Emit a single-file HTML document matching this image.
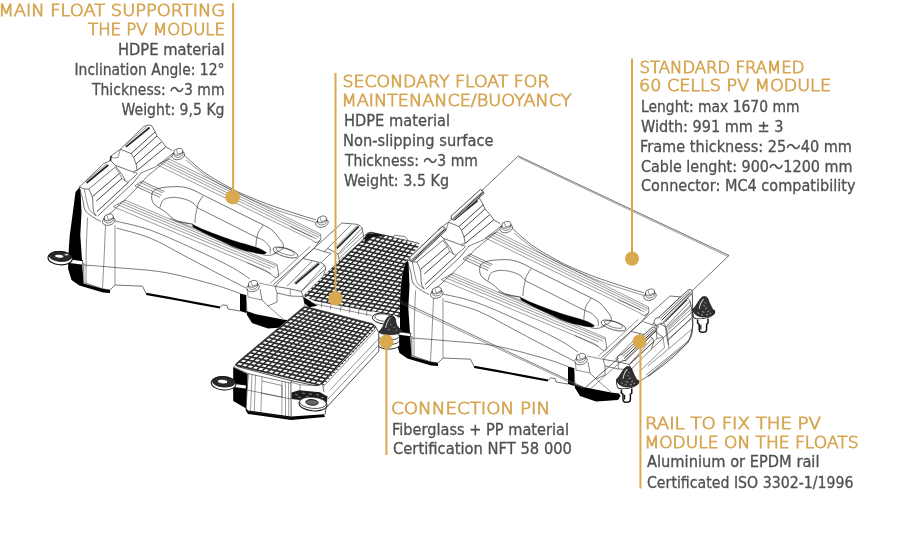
<!DOCTYPE html>
<html><head><meta charset="utf-8"><title>Floating PV system components</title>
<style>
html,body{margin:0;padding:0;background:#fff;}
body{width:900px;height:533px;overflow:hidden;}
svg{display:block;will-change:transform}
.h{font-family:"DejaVu Sans Light","DejaVu Sans","Liberation Sans",sans-serif;font-weight:200;fill:#d6a652;stroke:#d6a652;stroke-width:0.85px;}
.b{font-family:"DejaVu Sans","Liberation Sans","Noto Sans CJK JP",sans-serif;fill:#505050;stroke:#505050;stroke-width:0.3px;}
</style></head><body>
<svg width="900" height="533" viewBox="0 0 900 533">
<rect width="900" height="533" fill="#fff"/>
<g id="drawing">
<defs><g id="mf">
<polygon points="79.5,187.0 103.6,163.6 110.5,160.5 111.0,156.0 120.4,149.2 143.4,126.8 147.0,125.2 149.6,125.0 152.1,126.2 155.2,131.8 157.0,136.0 162.0,141.5 166.0,147.0 172.0,150.5 175.0,149.0 178.5,148.3 182.0,150.0 184.0,154.0 186.0,157.0 203.3,171.7 228.0,186.7 245.0,195.0 270.0,205.0 300.0,215.0 316.0,219.5 318.0,217.0 322.0,216.0 326.0,218.0 327.5,222.0 333.0,230.0 341.9,223.0 356.2,224.2 360.0,225.5 362.2,228.0 363.8,237.3 364.5,257.0 362.0,266.0 356.0,273.0 346.0,281.0 320.0,303.0 300.0,318.0 292.5,323.0 290.0,327.0 268.0,328.5 252.0,323.0 247.0,315.0 240.0,311.0 228.0,309.0 220.0,307.5 180.0,300.0 146.2,293.8 142.5,286.2 115.0,285.0 110.0,293.0 103.0,292.4 79.4,285.6 71.5,280.0 68.1,268.7 68.7,249.6 69.8,235.0 72.5,215.0 75.5,192.0" fill="#fff"/>
<polygon points="79.5,187.5 75.5,192.0 72.5,215.0 69.8,235.0 68.7,249.6 68.1,268.7 71.5,280.0 79.4,285.6 103.0,292.4 110.0,293.0 110.0,290.0 102.5,288.8 83.5,283.5 82.2,263.0 80.3,235.0 81.5,212.5 80.5,190.0" fill="#000"/>
<path d="M192.5 224.2C194.9 225.3 200.2 228.2 206.7 230.8C213.2 233.4 223.4 237.2 231.7 240.0C240.0 242.8 250.9 245.4 256.7 247.5C262.5 249.6 265.0 251.7 266.7 252.5L266.7 252.5C266.1 252.8 265.5 254.2 263.3 254.2C261.1 254.2 257.7 253.5 253.3 252.5C248.9 251.5 243.1 250.7 236.7 248.3C230.3 245.9 221.9 241.6 215.0 238.3C208.1 235.0 198.8 230.7 195.0 228.3C191.2 226.0 192.9 224.9 192.5 224.2" fill="#000" stroke="#262626" stroke-width="0.3"/>
<polygon points="240.0,293.5 246.0,295.0 246.5,313.0 240.0,311.0" fill="#000"/>
<polygon points="246.5,311.0 256.0,314.2 283.0,319.6 291.0,320.5 292.5,323.0 290.0,327.0 268.0,328.5 252.0,323.0 247.0,315.0" fill="#000"/>
<path d="M146.2 293.8C151.9 294.8 167.7 297.7 180.0 300.0C192.3 302.3 213.3 306.2 220.0 307.5" fill="none" stroke="#000" stroke-width="2.2"/>
<polyline points="79.5,187.0 103.6,163.6 110.5,160.5" fill="none" stroke="#262626" stroke-width="0.65" />
<polyline points="111.0,156.0 120.4,149.2 143.4,126.8 147.0,125.2 149.6,125.0 152.1,126.2 155.2,131.8 157.0,136.0 162.0,141.5 166.0,147.0 172.0,150.5" fill="none" stroke="#262626" stroke-width="0.65" />
<path d="M184.0 155.0C187.2 157.8 196.0 166.4 203.3 171.7C210.6 177.0 221.1 182.8 228.0 186.7C234.9 190.6 238.0 191.9 245.0 195.0C252.0 198.1 260.8 201.7 270.0 205.0C279.2 208.3 292.3 212.5 300.0 215.0C307.7 217.5 313.3 219.0 316.0 219.8" fill="none" stroke="#262626" stroke-width="0.65"/>
<polyline points="83.8,263.0 83.8,282.5 102.5,288.8 110.0,290.0 115.0,285.0 142.5,286.2 146.2,293.8" fill="none" stroke="#262626" stroke-width="0.65" />
<polyline points="220.0,307.5 222.5,304.8 227.0,305.5 228.0,309.0 240.0,311.0" fill="none" stroke="#262626" stroke-width="0.65" />
<polyline points="86.5,183.0 108.3,165.0" fill="none" stroke="#262626" stroke-width="1.7" />
<polyline points="85.2,181.8 106.8,163.8" fill="none" stroke="#262626" stroke-width="0.5" />
<polyline points="79.0,186.8 84.3,189.0 88.8,189.0 115.0,167.3" fill="none" stroke="#262626" stroke-width="0.65" />
<polyline points="92.5,196.5 119.5,173.3" fill="none" stroke="#262626" stroke-width="0.85" />
<polyline points="96.3,201.0 121.8,178.5" fill="none" stroke="#262626" stroke-width="0.85" />
<polyline points="97.0,211.5 128.5,182.3" fill="none" stroke="#262626" stroke-width="0.85" />
<polyline points="97.8,216.0 133.0,183.0" fill="none" stroke="#262626" stroke-width="0.65" />
<path d="M88.8 189.0C89.4 190.5 91.8 194.5 92.5 198.0C93.2 201.5 92.7 207.0 93.3 210.0C93.9 213.0 95.8 215.0 96.3 216.0" fill="none" stroke="#262626" stroke-width="0.65"/>
<path d="M79.0 186.8C79.6 188.9 81.8 195.6 82.8 199.5C83.8 203.4 83.4 207.1 85.0 210.0C86.6 212.9 89.8 214.9 92.5 216.8C95.2 218.7 99.6 220.7 101.0 221.5" fill="none" stroke="#262626" stroke-width="0.65"/>
<path d="M84.3 189.0C84.7 190.8 85.6 196.5 86.5 200.0C87.4 203.5 87.9 207.3 89.5 210.0C91.1 212.7 95.2 215.0 96.3 216.0" fill="none" stroke="#262626" stroke-width="0.5"/>
<polyline points="110.5,160.5 115.4,165.4 132.2,171.6" fill="none" stroke="#262626" stroke-width="0.65" />
<polyline points="111.0,156.0 110.4,161.0" fill="none" stroke="#262626" stroke-width="1.6" />
<polyline points="120.4,149.2 131.0,153.6 133.5,157.3 136.0,164.0 137.2,170.4 132.2,171.6" fill="none" stroke="#262626" stroke-width="0.65" />
<polyline points="115.4,165.4 117.3,168.5 122.3,174.8 125.4,181.0" fill="none" stroke="#262626" stroke-width="0.65" />
<polyline points="115.0,167.3 119.5,173.3 121.8,178.5 125.4,181.0" fill="none" stroke="#262626" stroke-width="0.5" />
<path d="M125.4 181.0C125.9 181.1 126.7 182.6 128.5 181.5C130.3 180.4 135.2 176.0 136.5 174.5C137.8 173.0 136.6 172.8 136.0 172.5C135.4 172.2 133.5 172.9 133.0 173.0" fill="none" stroke="#262626" stroke-width="0.65"/>
<polyline points="111.0,156.3 113.5,158.0 118.0,157.5 120.4,149.2" fill="none" stroke="#262626" stroke-width="0.5" />
<polyline points="126.0,146.8 149.6,127.5" fill="none" stroke="#262626" stroke-width="1.7" />
<polyline points="124.6,145.6 147.4,126.2" fill="none" stroke="#262626" stroke-width="0.5" />
<polyline points="131.0,153.6 155.2,131.8" fill="none" stroke="#262626" stroke-width="0.85" />
<polyline points="133.5,157.3 157.0,136.0" fill="none" stroke="#262626" stroke-width="0.85" />
<polyline points="136.0,164.0 161.5,141.8" fill="none" stroke="#262626" stroke-width="0.85" />
<polyline points="137.2,170.4 165.8,146.8" fill="none" stroke="#262626" stroke-width="0.85" />
<polyline points="141.0,173.0 155.9,166.7 173.3,153.0" fill="none" stroke="#262626" stroke-width="0.6" />
<polyline points="133.0,183.0 141.0,173.0" fill="none" stroke="#262626" stroke-width="0.65" />
<polyline points="103.0,219.0 113.0,211.0 135.0,190.0 147.0,176.5 172.0,156.0" fill="none" stroke="#262626" stroke-width="0.6" />
<ellipse cx="108.75" cy="221.0" rx="6.4" ry="4.2" transform="rotate(-15 108.75 221.0)" fill="#fff" stroke="#262626" stroke-width="0.6"/>
<ellipse cx="108.75" cy="217.39999999999998" rx="4.7" ry="3.2" transform="rotate(-15 108.75 217.39999999999998)" fill="#fff" stroke="#262626" stroke-width="0.6"/>
<polyline points="104.2,218.0 104.2,221.0" fill="none" stroke="#262626" stroke-width="0.6" />
<polyline points="113.3,216.8 113.5,219.8" fill="none" stroke="#262626" stroke-width="0.6" />
<path d="M104.2 221.0C104.8 221.3 106.1 222.8 107.2 223.0C108.4 223.2 110.3 222.6 111.3 222.1C112.4 221.6 113.1 220.2 113.5 219.8" fill="none" stroke="#262626" stroke-width="0.6"/>
<polyline points="107.0,215.3 108.0,219.6 112.3,218.4" fill="none" stroke="#262626" stroke-width="0.45" />
<ellipse cx="178.3" cy="155.4" rx="6.4" ry="4.2" transform="rotate(-15 178.3 155.4)" fill="#fff" stroke="#262626" stroke-width="0.6"/>
<ellipse cx="178.3" cy="151.79999999999998" rx="4.7" ry="3.2" transform="rotate(-15 178.3 151.79999999999998)" fill="#fff" stroke="#262626" stroke-width="0.6"/>
<polyline points="173.7,152.4 173.8,155.4" fill="none" stroke="#262626" stroke-width="0.6" />
<polyline points="182.9,151.2 183.0,154.2" fill="none" stroke="#262626" stroke-width="0.6" />
<path d="M173.8 155.4C174.3 155.7 175.6 157.2 176.8 157.4C178.0 157.6 179.9 157.0 180.9 156.5C181.9 156.0 182.7 154.6 183.0 154.2" fill="none" stroke="#262626" stroke-width="0.6"/>
<polyline points="176.5,149.7 177.5,154.0 181.9,152.8" fill="none" stroke="#262626" stroke-width="0.45" />
<ellipse cx="322.0" cy="223.0" rx="6.4" ry="4.2" transform="rotate(-15 322.0 223.0)" fill="#fff" stroke="#262626" stroke-width="0.6"/>
<ellipse cx="322.0" cy="219.39999999999998" rx="4.7" ry="3.2" transform="rotate(-15 322.0 219.39999999999998)" fill="#fff" stroke="#262626" stroke-width="0.6"/>
<polyline points="317.4,220.0 317.5,223.0" fill="none" stroke="#262626" stroke-width="0.6" />
<polyline points="326.6,218.8 326.7,221.8" fill="none" stroke="#262626" stroke-width="0.6" />
<path d="M317.5 223.0C318.0 223.3 319.3 224.8 320.5 225.0C321.7 225.2 323.6 224.6 324.6 224.1C325.6 223.6 326.4 222.2 326.7 221.8" fill="none" stroke="#262626" stroke-width="0.6"/>
<polyline points="320.2,217.3 321.2,221.6 325.6,220.4" fill="none" stroke="#262626" stroke-width="0.45" />
<ellipse cx="253.0" cy="287.40000000000003" rx="6.4" ry="4.2" transform="rotate(-15 253.0 287.40000000000003)" fill="#fff" stroke="#262626" stroke-width="0.6"/>
<ellipse cx="253.0" cy="283.8" rx="4.7" ry="3.2" transform="rotate(-15 253.0 283.8)" fill="#fff" stroke="#262626" stroke-width="0.6"/>
<polyline points="248.4,284.4 248.5,287.4" fill="none" stroke="#262626" stroke-width="0.6" />
<polyline points="257.6,283.2 257.7,286.2" fill="none" stroke="#262626" stroke-width="0.6" />
<path d="M248.5 287.4C249.0 287.7 250.3 289.2 251.5 289.4C252.7 289.6 254.6 289.0 255.6 288.5C256.6 288.0 257.3 286.6 257.7 286.2" fill="none" stroke="#262626" stroke-width="0.6"/>
<polyline points="251.2,281.7 252.2,286.0 256.6,284.8" fill="none" stroke="#262626" stroke-width="0.45" />
<polyline points="87.5,217.5 86.2,250.0 86.0,283.0" fill="none" stroke="#262626" stroke-width="0.5" />
<polyline points="105.5,225.0 104.0,260.0 102.5,288.5" fill="none" stroke="#262626" stroke-width="0.5" />
<polyline points="115.0,225.0 115.0,285.0" fill="none" stroke="#262626" stroke-width="0.5" />
<path d="M83.8 265.0C89.0 265.4 101.5 266.2 115.0 267.5C128.5 268.8 148.3 269.6 165.0 272.5C181.7 275.4 202.5 281.5 215.0 285.0C227.5 288.5 235.8 292.1 240.0 293.5" fill="none" stroke="#262626" stroke-width="0.6"/>
<path d="M115.0 221.0C120.8 222.5 135.8 224.9 150.0 230.0C164.2 235.1 186.2 245.4 200.0 251.7C213.8 258.0 224.7 263.4 233.0 268.0C241.3 272.6 247.2 277.2 250.0 279.0" fill="none" stroke="#262626" stroke-width="0.6"/>
<path d="M116.5 228.0C122.1 229.7 138.9 233.5 150.0 238.0C161.1 242.5 172.2 249.3 183.0 255.0C193.8 260.7 204.5 266.5 215.0 272.0C225.5 277.5 240.8 285.3 246.0 288.0" fill="none" stroke="#262626" stroke-width="0.6"/>
<polyline points="113.3,206.7 266.0,270.5" fill="none" stroke="#3c3c3c" stroke-width="0.5" />
<polyline points="117.0,204.5 271.0,269.0" fill="none" stroke="#3c3c3c" stroke-width="0.5" />
<polyline points="120.0,203.0 275.0,268.0" fill="none" stroke="#3c3c3c" stroke-width="0.5" />
<polyline points="122.5,201.5 276.5,266.0" fill="none" stroke="#3c3c3c" stroke-width="0.5" />
<polyline points="126.0,200.5 277.0,264.5" fill="none" stroke="#3c3c3c" stroke-width="0.5" />
<polyline points="113.3,206.7 117.0,204.5 122.5,201.5 126.0,200.5" fill="none" stroke="#262626" stroke-width="0.5" />
<path d="M266.0 270.5C266.7 271.0 268.4 272.3 270.0 273.5C271.6 274.7 274.1 277.2 275.5 277.5C276.9 277.8 278.2 277.2 278.5 275.0C278.8 272.8 277.2 266.2 277.0 264.5" fill="none" stroke="#262626" stroke-width="0.6"/>
<polyline points="247.0,262.5 270.5,273.5" fill="none" stroke="#262626" stroke-width="0.5" />
<polyline points="157.5,165.0 313.0,240.5" fill="none" stroke="#3c3c3c" stroke-width="0.5" />
<polyline points="160.5,163.0 316.5,239.0" fill="none" stroke="#3c3c3c" stroke-width="0.5" />
<polyline points="163.3,161.7 319.0,237.5" fill="none" stroke="#3c3c3c" stroke-width="0.5" />
<polyline points="166.0,160.2 320.0,235.8" fill="none" stroke="#3c3c3c" stroke-width="0.5" />
<polyline points="169.0,159.0 320.5,234.0" fill="none" stroke="#3c3c3c" stroke-width="0.5" />
<polyline points="157.5,165.0 160.5,163.0 166.0,160.2 169.0,159.0" fill="none" stroke="#262626" stroke-width="0.5" />
<path d="M313.0 240.5C313.5 240.8 314.8 242.7 316.0 242.5C317.2 242.3 319.8 240.9 320.5 239.5C321.2 238.1 320.5 234.9 320.5 234.0" fill="none" stroke="#262626" stroke-width="0.6"/>
<polyline points="290.0,226.5 312.5,237.0" fill="none" stroke="#262626" stroke-width="0.5" />
<path d="M186.0 160.0C189.2 162.5 197.7 170.1 205.0 175.0C212.3 179.9 219.2 184.1 230.0 189.5C240.8 194.9 258.3 202.8 270.0 207.5C281.7 212.2 292.3 215.0 300.0 217.5C307.7 220.0 313.3 221.7 316.0 222.5" fill="none" stroke="#262626" stroke-width="0.5"/>
<path d="M151.7 195.0C152.1 194.2 152.1 191.8 154.0 190.5C155.9 189.2 158.7 188.1 163.0 187.5C167.3 186.9 175.2 186.4 180.0 186.7C184.8 187.0 188.2 188.1 192.0 189.5C195.8 190.9 201.2 194.1 203.0 195.0" fill="none" stroke="#262626" stroke-width="0.65"/>
<polyline points="203.0,195.0 263.3,225.0" fill="none" stroke="#262626" stroke-width="0.65" />
<path d="M263.3 225.0C264.8 225.8 269.5 227.9 272.0 230.0C274.5 232.1 276.6 235.0 278.5 237.5C280.4 240.0 282.9 242.9 283.3 245.0C283.7 247.1 282.7 248.6 281.0 250.0C279.3 251.4 274.6 252.8 273.3 253.3" fill="none" stroke="#262626" stroke-width="0.65"/>
<path d="M151.7 195.0C151.8 195.8 151.4 198.3 152.0 200.0C152.6 201.7 152.8 203.1 155.0 205.0C157.2 206.9 161.4 209.1 165.0 211.7C168.6 214.3 172.0 218.7 176.7 220.8C181.4 222.9 190.3 223.7 193.0 224.3" fill="none" stroke="#262626" stroke-width="0.65"/>
<path d="M160.0 207.5C160.4 206.4 161.2 202.4 162.5 200.8C163.8 199.2 165.6 198.6 168.0 198.0C170.4 197.4 173.7 197.2 176.7 197.5C179.7 197.8 183.3 198.6 186.0 199.5C188.7 200.4 191.0 201.6 193.0 203.0C195.0 204.4 197.2 207.2 198.0 208.0" fill="none" stroke="#262626" stroke-width="0.6"/>
<path d="M203.0 195.8C202.2 197.0 199.6 200.6 198.5 203.0C197.4 205.4 197.2 207.7 196.7 210.0C196.2 212.3 195.6 214.8 195.3 217.0C195.0 219.2 195.1 222.0 195.0 223.0" fill="none" stroke="#262626" stroke-width="0.6"/>
<polyline points="198.0,208.0 256.7,237.5" fill="none" stroke="#262626" stroke-width="0.6" />
<path d="M263.3 225.0C262.5 226.2 259.6 229.8 258.5 232.0C257.4 234.2 257.1 236.1 256.7 238.5C256.2 240.9 256.0 245.3 255.8 246.7" fill="none" stroke="#262626" stroke-width="0.6"/>
<path d="M256.7 237.5C257.8 237.9 261.1 238.8 263.0 240.0C264.9 241.2 267.1 243.5 268.3 245.0C269.5 246.5 270.0 247.6 270.3 249.0C270.6 250.4 270.1 252.6 270.0 253.3" fill="none" stroke="#262626" stroke-width="0.6"/>
<path d="M263.3 255.0C264.4 255.1 267.8 255.6 270.0 255.3C272.2 255.0 275.6 253.6 276.7 253.3" fill="none" stroke="#262626" stroke-width="0.6"/>
<polyline points="135.0,186.0 160.0,197.4" fill="none" stroke="#262626" stroke-width="0.6" />
<polyline points="137.0,184.3 161.5,195.3" fill="none" stroke="#262626" stroke-width="0.5" />
<polyline points="140.0,182.3 163.0,193.0" fill="none" stroke="#262626" stroke-width="0.5" />
<polyline points="142.0,181.0 164.5,191.6" fill="none" stroke="#262626" stroke-width="0.6" />
<polyline points="135.0,186.0 137.0,184.3 140.0,182.3 142.0,181.0" fill="none" stroke="#262626" stroke-width="0.5" />
<ellipse cx="285.5" cy="252.5" rx="13" ry="4.2" transform="rotate(17 285.5 252.5)" fill="none" stroke="#262626" stroke-width="0.65"/>
<ellipse cx="285.5" cy="251.5" rx="9.5" ry="2.8" transform="rotate(17 285.5 251.5)" fill="none" stroke="#262626" stroke-width="0.5"/>
<polyline points="176.7,220.8 192.5,224.2" fill="none" stroke="#262626" stroke-width="0.5" />
<polyline points="195.0,228.3 170.0,218.5" fill="none" stroke="#262626" stroke-width="0.5" />
<polyline points="273.4,284.7 314.0,248.3 320.8,239.5" fill="none" stroke="#262626" stroke-width="0.65" />
<polyline points="270.0,283.5 310.5,246.2" fill="none" stroke="#262626" stroke-width="0.5" />
<polyline points="314.0,248.3 324.1,251.7 330.9,245.8" fill="none" stroke="#262626" stroke-width="0.6" />
<polyline points="303.0,258.5 314.0,248.3" fill="none" stroke="#262626" stroke-width="0.6" />
<polyline points="320.8,262.7 330.9,253.4 324.1,251.7" fill="none" stroke="#262626" stroke-width="0.6" />
<polyline points="314.0,248.3 341.9,223.0 356.2,224.2 360.0,225.5 362.2,228.0 363.8,237.3 363.0,240.0 339.4,261.0 338.0,254.2 327.5,248.3" fill="#fff" stroke="#262626" stroke-width="0.65" />
<polyline points="336.8,248.3 358.8,226.4" fill="none" stroke="#262626" stroke-width="1.8" />
<polyline points="335.2,247.6 357.0,225.6" fill="none" stroke="#262626" stroke-width="0.5" />
<polyline points="327.5,248.3 351.2,224.7" fill="none" stroke="#262626" stroke-width="0.6" />
<polyline points="338.0,254.2 342.0,249.5 362.2,228.0" fill="none" stroke="#262626" stroke-width="0.6" />
<polyline points="339.4,254.2 363.0,231.4" fill="none" stroke="#262626" stroke-width="0.5" />
<polyline points="339.4,258.0 363.5,235.5" fill="none" stroke="#262626" stroke-width="0.5" />
<polyline points="275.1,286.3 303.0,258.5 320.8,262.7 324.5,265.0 325.8,268.6 301.3,291.4 290.3,288.9 275.1,286.3" fill="#fff" stroke="#262626" stroke-width="0.65" />
<polyline points="295.4,283.8 319.1,263.5" fill="none" stroke="#262626" stroke-width="1.8" />
<polyline points="293.8,283.2 317.3,262.8" fill="none" stroke="#262626" stroke-width="0.5" />
<polyline points="287.0,286.3 312.3,261.0" fill="none" stroke="#262626" stroke-width="0.6" />
<polyline points="301.3,291.4 303.0,296.5 323.3,276.2 325.8,268.6" fill="none" stroke="#262626" stroke-width="0.6" />
<polyline points="301.3,291.4 324.5,265.0" fill="none" stroke="#262626" stroke-width="0.5" />
<polyline points="275.1,286.3 277.0,293.0 290.3,296.0 303.0,296.5" fill="none" stroke="#262626" stroke-width="0.6" />
<polyline points="290.3,288.9 290.3,296.0" fill="none" stroke="#262626" stroke-width="0.5" />
<polyline points="323.3,276.2 339.4,261.0" fill="none" stroke="#262626" stroke-width="0.6" />
<polyline points="260.0,289.0 262.0,300.0 268.0,306.0 277.0,302.0 277.0,293.0" fill="none" stroke="#262626" stroke-width="0.6" />
<polyline points="247.5,289.0 248.0,297.0 262.0,300.0" fill="none" stroke="#262626" stroke-width="0.5" />
<polyline points="246.0,295.0 247.0,313.0" fill="none" stroke="#262626" stroke-width="0.6" />
<polyline points="259.0,283.0 275.1,286.3" fill="none" stroke="#262626" stroke-width="0.5" />
<polyline points="268.0,306.0 283.0,319.0" fill="none" stroke="#262626" stroke-width="0.5" />
<path d="M363.8 239.0C363.9 242.0 364.8 252.5 364.5 257.0C364.2 261.5 363.4 263.3 362.0 266.0C360.6 268.7 357.0 271.8 356.0 273.0" fill="none" stroke="#262626" stroke-width="0.65"/>
<polyline points="356.0,273.0 346.0,281.0 320.0,303.0 300.0,316.0 292.0,319.7" fill="none" stroke="#262626" stroke-width="0.65" />
<polyline points="363.0,246.0 340.0,266.5" fill="none" stroke="#262626" stroke-width="0.6" />
<polyline points="364.0,256.0 341.0,275.5 320.0,293.0" fill="none" stroke="#262626" stroke-width="0.5" />
<polyline points="360.0,268.0 338.0,286.0 318.0,302.0" fill="none" stroke="#262626" stroke-width="0.5" />
<polyline points="303.0,296.5 305.0,304.0 300.0,316.0" fill="none" stroke="#262626" stroke-width="0.5" />
<polyline points="339.4,261.0 341.0,275.5" fill="none" stroke="#262626" stroke-width="0.5" />
</g></defs>
<use href="#mf"/>
<polyline points="70.0,261.0 82.7,262.6" fill="none" stroke="#111" stroke-width="5" />
<polyline points="70.0,261.3 82.2,262.9" fill="none" stroke="#fff" stroke-width="3.4" />
<ellipse cx="60.2" cy="258.2" rx="12.2" ry="6.6" transform="rotate(4 60.2 258.2)" fill="#fff" stroke="#111" stroke-width="1.1"/>
<ellipse cx="60.4" cy="256.4" rx="11.2" ry="5.0" transform="rotate(4 60.4 256.4)" fill="#2a2a2a" stroke="#111" stroke-width="0.8"/>
<ellipse cx="59.2" cy="256.2" rx="4.6" ry="2.0" transform="rotate(4 59.2 256.2)" fill="#fff" stroke="#111" stroke-width="0.8"/>
<ellipse cx="66.5" cy="254.6" rx="2.2" ry="1.2" transform="rotate(4 66.5 254.6)" fill="#ddd" stroke="#111" stroke-width="0.5"/>
<use href="#mf" transform="translate(328,73)"/>
<polygon points="480.3,189.6 451.0,216.2 451.4,219.1 453.8,220.2 455.8,219.1 483.9,193.6 483.0,190.8" fill="#fff" stroke="#262626" stroke-width="0.8" />
<polyline points="482.2,191.7 452.4,218.7" fill="none" stroke="#262626" stroke-width="0.5" />
<polyline points="482.8,192.4 453.4,219.1" fill="none" stroke="#262626" stroke-width="1.0" />
<polyline points="483.4,193.0 454.6,219.2" fill="none" stroke="#262626" stroke-width="0.5" />
<polygon points="442.2,226.6 409.6,257.6 410.1,260.5 412.5,261.5 414.5,260.4 445.9,230.5 444.9,227.7" fill="#fff" stroke="#262626" stroke-width="0.8" />
<polyline points="444.1,228.6 411.1,260.0" fill="none" stroke="#262626" stroke-width="0.5" />
<polyline points="444.8,229.3 412.1,260.5" fill="none" stroke="#262626" stroke-width="1.0" />
<polyline points="445.4,230.0 413.2,260.6" fill="none" stroke="#262626" stroke-width="0.5" />
<path d="M687.8 290.2L659 317.2L658.2 320.5L660.5 323.5L663.6 323L692.3 293.2L692.2 290.8L690.3 289.4Z" fill="#fff" stroke="#262626" stroke-width="0.8"/>
<polyline points="689.3,291.2 660.2,318.7" fill="none" stroke="#262626" stroke-width="0.6" />
<polyline points="690.6,292.2 661.6,320.4" fill="none" stroke="#262626" stroke-width="1.0" />
<polyline points="691.6,293.0 662.8,322.0" fill="none" stroke="#262626" stroke-width="0.5" />
<polyline points="659.0,317.2 655.5,318.5 653.8,322.0 656.0,325.5 660.5,323.5" fill="#fff" stroke="#262626" stroke-width="0.7" />
<polyline points="656.0,325.5 657.0,333.0 663.0,337.0" fill="none" stroke="#262626" stroke-width="0.6" />
<polyline points="692.3,293.4 692.9,325.6 690.5,336.0 687.8,342.5 679.3,351.0 674.3,356.0 664.1,364.5 648.3,376.4" fill="none" stroke="#262626" stroke-width="0.8" />
<polyline points="691.5,305.4 667.5,329.0" fill="none" stroke="#262626" stroke-width="0.6" />
<polyline points="692.3,317.2 667.5,340.8" fill="none" stroke="#262626" stroke-width="0.6" />
<polyline points="665.0,324.8 667.5,340.8 668.5,345.0" fill="none" stroke="#262626" stroke-width="0.6" />
<polyline points="663.6,323.0 665.0,324.8" fill="none" stroke="#262626" stroke-width="0.6" />
<path d="M652.3 327.3L622 354.3L620.6 357.6L622.6 360.8L626 360.4L656 331L655.8 328.4L654.2 327Z" fill="#fff" stroke="#262626" stroke-width="0.8"/>
<polyline points="653.6,328.6 622.9,356.3" fill="none" stroke="#262626" stroke-width="0.6" />
<polyline points="654.8,329.8 624.2,358.3" fill="none" stroke="#262626" stroke-width="1.0" />
<polyline points="655.6,330.6 625.4,359.8" fill="none" stroke="#262626" stroke-width="0.5" />
<polyline points="622.0,354.3 618.5,355.5 616.8,359.0 619.0,362.5 622.6,360.8" fill="#fff" stroke="#262626" stroke-width="0.7" />
<polyline points="618.5,358.5 600.0,374.4 585.0,388.0" fill="none" stroke="#262626" stroke-width="0.7" />
<polyline points="620.5,362.0 603.0,377.5 590.0,389.5" fill="none" stroke="#262626" stroke-width="0.5" />
<polyline points="656.0,331.0 657.0,338.5 630.0,364.0" fill="none" stroke="#262626" stroke-width="0.6" />
<polyline points="657.0,338.5 663.0,337.0 664.5,347.5 640.0,371.0" fill="none" stroke="#262626" stroke-width="0.5" />
<path d="M692.9 309.5c-0.6 3 0.4 6.4 1.2 8.6c5 1.8 15 0.6 20.4 -4.4l0.2 -3.2z" fill="#fff" stroke="#111" stroke-width="0.9"/>
<path d="M692.9 309.2c3 -2.6 5.6 -8.6 8.4 -11.4c2 -2 5.4 -1.8 6.6 1c1.2 3.4 3.6 9.4 6.8 13.2c-0.6 3 -6 5 -11 5c-5.4 0 -10.4 -2.6 -10.8 -7.8z" fill="#303030" stroke="#111" stroke-width="0.7"/>
<path d="M699.2 308.8c0.6 -3.6 2.2 -7.6 4.4 -9.6" fill="none" stroke="#d0d0d0" stroke-width="1.1"/>
<path d="M703.3 305.0l1.8 1.3M705.0 309.0l2.2 -1.3M702.0 311.6l2.4 0.7M707.4 312.0l1.8 -1.1M697.4 312.6l1.8 0.9M704.4 301.8l1.4 1.6M709.6 313.8l1.6 -0.6M700.8 314.8l2 0.4M706.0 315.0l2 -0.4" fill="none" stroke="#b8b8b8" stroke-width="0.8"/>
<path d="M697.6 319.6v3.4l1.6 1.4v5c0 1.8 1.4 2.8 3.6 2.8s3.8 -1 3.8 -2.8v-5l1.4 -1.4v-4.4" fill="#fff" stroke="#111" stroke-width="1.5"/>
<path d="M700.8 324.8v4.6" fill="none" stroke="#111" stroke-width="1.2"/>
<path d="M616.7 379.5c-0.6 3 0.4 6.4 1.2 8.6c5 1.8 15 0.6 20.4 -4.4l0.2 -3.2z" fill="#fff" stroke="#111" stroke-width="0.9"/>
<path d="M616.7 379.2c3 -2.6 5.6 -8.6 8.4 -11.4c2 -2 5.4 -1.8 6.6 1c1.2 3.4 3.6 9.4 6.8 13.2c-0.6 3 -6 5 -11 5c-5.4 0 -10.4 -2.6 -10.8 -7.8z" fill="#303030" stroke="#111" stroke-width="0.7"/>
<path d="M623.0 378.8c0.6 -3.6 2.2 -7.6 4.4 -9.6" fill="none" stroke="#d0d0d0" stroke-width="1.1"/>
<path d="M627.1 375.0l1.8 1.3M628.8 379.0l2.2 -1.3M625.8 381.6l2.4 0.7M631.2 382.0l1.8 -1.1M621.2 382.6l1.8 0.9M628.2 371.8l1.4 1.6M633.4 383.8l1.6 -0.6M624.6 384.8l2 0.4M629.8 385.0l2 -0.4" fill="none" stroke="#b8b8b8" stroke-width="0.8"/>
<path d="M621.4 389.6v3.4l1.6 1.4v5c0 1.8 1.4 2.8 3.6 2.8s3.8 -1 3.8 -2.8v-5l1.4 -1.4v-4.4" fill="#fff" stroke="#111" stroke-width="1.5"/>
<path d="M624.6 394.8v4.6" fill="none" stroke="#111" stroke-width="1.2"/>
<clipPath id="cu"><polygon points="363.8,239.0 364.5,236.0 367.0,233.3 371.0,232.2 394.4,237.3 419.4,245.5 406.0,261.0 401.5,278.0 400.2,300.0 400.0,318.0 394.5,315.6 313.5,300.4 303.0,296.5 323.3,276.2 339.4,261.0"/></clipPath>
<g clip-path="url(#cu)">
<polygon points="363.8,239.0 364.5,236.0 367.0,233.3 371.0,232.2 394.4,237.3 419.4,245.5 406.0,261.0 401.5,278.0 400.2,300.0 400.0,318.0 394.5,315.6 313.5,300.4 303.0,296.5 323.3,276.2 339.4,261.0" fill="#fff"/>
<path d="M362.0 229.3L453.9 252.1M358.5 232.7L451.3 255.3M355.1 236.0L448.8 258.6M351.6 239.4L446.3 261.8M348.1 242.7L443.8 265.1M344.6 246.1L441.2 268.4M341.2 249.5L438.7 271.6M337.7 252.8L436.2 274.9M334.2 256.2L433.7 278.1M330.8 259.5L431.1 281.4M327.3 262.9L428.6 284.6M323.8 266.3L426.1 287.9M320.4 269.6L423.6 291.2M316.9 273.0L421.0 294.4M313.4 276.3L418.5 297.7M310.0 279.7L416.0 300.9M306.5 283.1L413.5 304.2M303.0 286.4L410.9 307.5M299.5 289.8L408.4 310.7M296.1 293.1L405.9 314.0M292.6 296.5L403.3 317.2" stroke="#2c2c2c" stroke-width="1.7" fill="none"/>
<path d="M362.0 229.3L292.6 296.5M366.6 230.4L298.1 297.5M371.2 231.6L303.7 298.6M375.8 232.7L309.2 299.6M380.4 233.9L314.8 300.6M385.0 235.0L320.3 301.7M389.6 236.1L325.8 302.7M394.2 237.3L331.4 303.8M398.8 238.4L336.9 304.8M403.3 239.5L342.4 305.8M407.9 240.7L348.0 306.9M412.5 241.8L353.5 307.9M417.1 243.0L359.0 308.9M421.7 244.1L364.6 310.0M426.3 245.2L370.1 311.0M430.9 246.4L375.7 312.1M435.5 247.5L381.2 313.1M440.1 248.6L386.7 314.1M444.7 249.8L392.3 315.2M449.3 250.9L397.8 316.2M453.9 252.1L403.3 317.2" stroke="#2c2c2c" stroke-width="1.45" fill="none"/>
</g>
<polyline points="364.5,236.0 367.0,233.3 371.0,232.2 394.4,237.3 419.4,243.5" fill="none" stroke="#262626" stroke-width="0.8" />
<path d="M364.6 240.5C365 236 367.5 233.4 372 233.2C377 233.2 382 234.6 385.5 236.6C380 236.4 374 236.6 370.5 238.2C368 239.4 366.4 241.4 364.6 243Z" fill="#111"/>
<path d="M393 237.2L394.5 235.2L405 236.6L407.8 239.8" fill="#fff" stroke="#262626" stroke-width="0.6"/>
<polygon points="313.5,300.4 394.5,315.6 400.0,318.0 400.0,332.0 378.0,330.0 374.3,325.0 309.0,307.4 305.5,306.5 303.0,296.5" fill="#fff"/>
<polygon points="303.0,296.5 309.0,300.2 317.5,305.8 309.0,307.2 304.5,303.5" fill="#000"/>
<polyline points="313.5,300.4 372.0,311.4" fill="none" stroke="#262626" stroke-width="0.8" />
<polyline points="311.0,303.2 372.0,315.5" fill="none" stroke="#262626" stroke-width="0.5" />
<polyline points="322.0,302.5 321.4,307.6" fill="none" stroke="#262626" stroke-width="0.5" />
<polyline points="331.0,304.2 330.4,309.3" fill="none" stroke="#262626" stroke-width="0.5" />
<polyline points="341.0,306.1 340.4,311.2" fill="none" stroke="#262626" stroke-width="0.5" />
<polyline points="350.0,307.8 349.4,312.9" fill="none" stroke="#262626" stroke-width="0.5" />
<polyline points="359.0,309.4 358.4,314.5" fill="none" stroke="#262626" stroke-width="0.5" />
<polyline points="367.0,310.9 366.4,316.0" fill="none" stroke="#262626" stroke-width="0.5" />
<path d="M378 331v13.5c0 2.6 4.4 4.6 10.6 4.6s11 -2 11 -4.6v-12" fill="#fff" stroke="#111" stroke-width="0.9"/>
<path d="M378 335.5c0 2.6 4.4 4.6 10.6 4.6s11 -2 11 -4.6M378 340c0 2.6 4.4 4.6 10.6 4.6s11 -2 11 -4.6" fill="none" stroke="#111" stroke-width="0.8"/>
<polyline points="398.0,333.2 411.0,335.0" fill="none" stroke="#111" stroke-width="4.2" />
<polyline points="398.4,333.3 410.4,335.0" fill="none" stroke="#fff" stroke-width="2.4" />
<ellipse cx="383.8" cy="318.5" rx="11.5" ry="5.4" transform="rotate(6 383.8 318.5)" fill="#fff" stroke="#111" stroke-width="0.9"/>
<ellipse cx="383.4" cy="317.6" rx="8.6" ry="3.6" transform="rotate(6 383.4 317.6)" fill="#fff" stroke="#111" stroke-width="0.6"/>
<path d="M378.5 331.5c2.4 -1 5 -5.4 6.6 -10c1.4 -4 4.6 -6.4 7.6 -5.4c2.6 1 3 4.4 3.4 7c0.6 3.4 3.4 5.4 6 7.6c-1 2.6 -6.4 4 -12 4c-5.6 0 -10.6 -1 -11.6 -3.2z" fill="#303030" stroke="#111" stroke-width="0.6"/>
<path d="M385.6 328c0.8 -4 2.4 -8.4 5 -10.4" fill="none" stroke="#ccc" stroke-width="1"/>
<path d="M390 324l1.8 1M393.2 327.6l2 -0.8M388 329.5l2 0.6M395.6 330.6l1.6 -0.6" fill="none" stroke="#999" stroke-width="0.7"/>
<polygon points="233.0,366.5 237.0,362.5 302.0,308.2 305.5,306.5 309.0,307.4 372.0,323.6 376.5,326.0 378.8,332.5 378.8,351.2 326.0,408.0 325.0,416.0 291.2,418.6 247.5,412.5 245.5,409.5 233.0,401.0" fill="#fff"/>
<polygon points="233.2,367.2 247.6,374.0 246.2,408.5 233.2,401.0" fill="#000"/>
<polygon points="246.0,408.0 248.0,410.4 291.2,416.6 324.0,414.2 325.0,417.0 291.2,420.0 248.0,414.0 245.6,410.2" fill="#000"/>
<clipPath id="cl"><polygon points="236.5,363.0 302.0,308.2 305.5,306.5 309.0,307.4 372.0,323.6 375.3,326.0 374.5,329.0 322.5,383.5 318.0,385.6 312.0,385.0 292.0,380.8 238.0,366.8 235.6,365.2"/></clipPath>
<g clip-path="url(#cl)">
<polygon points="236.5,363.0 302.0,308.2 305.5,306.5 309.0,307.4 372.0,323.6 375.3,326.0 374.5,329.0 322.5,383.5 318.0,385.6 312.0,385.0 292.0,380.8 238.0,366.8 235.6,365.2" fill="#fff"/>
<path d="M304.8 307.1L374.3 325.0M301.1 310.1L371.4 328.2M297.5 313.2L368.6 331.3M293.8 316.2L365.7 334.5M290.2 319.3L362.9 337.6M286.5 322.3L360.0 340.8M282.9 325.4L357.2 343.9M279.2 328.4L354.3 347.1M275.6 331.4L351.4 350.3M271.9 334.5L348.6 353.4M268.3 337.5L345.7 356.6M264.6 340.6L342.9 359.7M261.0 343.6L340.0 362.9M257.3 346.6L337.1 366.1M253.7 349.7L334.3 369.2M250.0 352.7L331.4 372.4M246.4 355.8L328.6 375.5M242.7 358.8L325.7 378.7M239.1 361.9L322.9 381.8M235.4 364.9L320.0 385.0" stroke="#2c2c2c" stroke-width="1.7" fill="none"/>
<path d="M304.8 307.1L235.4 364.9M309.1 308.2L240.7 366.2M313.5 309.3L246.0 367.4M317.8 310.5L251.3 368.7M322.2 311.6L256.6 369.9M326.5 312.7L261.8 371.2M330.9 313.8L267.1 372.4M335.2 314.9L272.4 373.7M339.6 316.1L277.7 374.9M343.9 317.2L283.0 376.2M348.2 318.3L288.3 377.5M352.6 319.4L293.6 378.7M356.9 320.5L298.9 380.0M361.3 321.6L304.1 381.2M365.6 322.8L309.4 382.5M370.0 323.9L314.7 383.7M374.3 325.0L320.0 385.0" stroke="#2c2c2c" stroke-width="1.45" fill="none"/>
</g>
<polygon points="236.5,363.0 302.0,308.2 305.5,306.5 309.0,307.4 372.0,323.6 375.3,326.0 374.5,329.0 322.5,383.5 318.0,385.6 312.0,385.0 292.0,380.8 238.0,366.8 235.6,365.2" fill="none" stroke="#262626" stroke-width="0.8" />
<polyline points="235.6,365.2 233.5,367.0 248.3,373.6 290.9,383.2 292.0,380.8" fill="none" stroke="#262626" stroke-width="0.6" />
<polyline points="248.3,373.6 247.0,392.0 246.0,409.0 248.0,411.5 291.2,417.8 290.9,383.2" fill="none" stroke="#262626" stroke-width="0.7" />
<polyline points="252.0,374.4 250.5,411.9" fill="none" stroke="#262626" stroke-width="0.45" />
<polyline points="255.5,375.2 254.2,412.4" fill="none" stroke="#262626" stroke-width="0.45" />
<polyline points="262.0,376.7 260.8,413.4" fill="none" stroke="#262626" stroke-width="0.45" />
<polyline points="282.0,381.2 281.8,416.4" fill="none" stroke="#262626" stroke-width="0.45" />
<polyline points="285.5,382.0 285.5,417.0" fill="none" stroke="#262626" stroke-width="0.45" />
<polyline points="288.5,382.7 288.8,417.4" fill="none" stroke="#262626" stroke-width="0.45" />
<polyline points="247.2,390.0 291.0,399.0" fill="none" stroke="#262626" stroke-width="0.5" />
<polyline points="262.0,381.0 282.0,385.5 282.0,397.2 261.2,393.0" fill="none" stroke="#262626" stroke-width="0.5" />
<polyline points="290.7,382.0 300.0,384.8 318.0,385.6" fill="none" stroke="#262626" stroke-width="0.5" />
<polyline points="300.0,384.8 300.0,394.0" fill="none" stroke="#262626" stroke-width="0.5" />
<polyline points="375.3,326.0 378.8,332.5 378.8,351.2 326.0,408.0 325.0,414.5" fill="none" stroke="#262626" stroke-width="0.8" />
<polyline points="322.5,383.5 324.0,392.0" fill="none" stroke="#262626" stroke-width="0.6" />
<polyline points="378.8,338.5 330.0,390.0" fill="none" stroke="#262626" stroke-width="0.5" />
<polyline points="378.8,345.0 328.0,399.0" fill="none" stroke="#262626" stroke-width="0.5" />
<polyline points="376.5,329.5 323.5,386.5" fill="none" stroke="#262626" stroke-width="0.5" />
<path d="M373.2 326.7l2.6 1.2M370.5 329.7l2.6 1.2M367.8 332.7l2.6 1.2M365.1 335.7l2.6 1.2M362.4 338.7l2.6 1.2M359.7 341.7l2.6 1.2M357.0 344.7l2.6 1.2M354.2 347.7l2.6 1.2M351.5 350.7l2.6 1.2M348.8 353.7l2.6 1.2M346.1 356.7l2.6 1.2M343.4 359.7l2.6 1.2M340.7 362.7l2.6 1.2M337.9 365.7l2.6 1.2M335.2 368.7l2.6 1.2M332.5 371.7l2.6 1.2M329.8 374.7l2.6 1.2M327.1 377.7l2.6 1.2M324.4 380.7l2.6 1.2M321.7 383.7l2.6 1.2" stroke="#222" stroke-width="0.9" fill="none"/>
<polyline points="232.0,385.0 246.3,386.8" fill="none" stroke="#111" stroke-width="4.6" />
<polyline points="232.0,385.2 245.8,387.0" fill="none" stroke="#fff" stroke-width="3.0" />
<ellipse cx="223.6" cy="383.4" rx="12.4" ry="6.6" transform="rotate(4 223.6 383.4)" fill="#fff" stroke="#111" stroke-width="1.0"/>
<ellipse cx="223.8" cy="381.8" rx="11.4" ry="5.2" transform="rotate(4 223.8 381.8)" fill="#2a2a2a" stroke="#111" stroke-width="0.8"/>
<ellipse cx="222.6" cy="381.6" rx="5.2" ry="2.3" transform="rotate(4 222.6 381.6)" fill="#fff" stroke="#111" stroke-width="0.8"/>
<polygon points="291.5,392.5 299.0,390.2 320.0,392.2 327.5,396.5 327.0,402.0 300.0,400.0 291.5,399.0" fill="#1c1c1c"/>
<path d="M295 394.5l3 0.6M302 393l3 0.5M309 394l3 0.4M316 394.6l3 0.6M298 397l3 0.5M306 396.6l3 0.4M321 397.4l3 0.6" stroke="#aaa" stroke-width="0.7" fill="none"/>
<ellipse cx="313" cy="404.2" rx="14" ry="6.6" transform="rotate(5 313 404.2)" fill="#fff" stroke="#111" stroke-width="1.0"/>
<ellipse cx="313" cy="402.8" rx="13.4" ry="5.6" transform="rotate(5 313 402.8)" fill="#fff" stroke="#111" stroke-width="0.7"/>
<ellipse cx="312" cy="402.4" rx="6.2" ry="2.8" transform="rotate(5 312 402.4)" fill="#666" stroke="#111" stroke-width="0.9"/>
<polyline points="481.0,191.3 518.3,156.0 729.0,255.5 692.0,291.0" fill="none" stroke="#333" stroke-width="0.7" />
<polyline points="518.6,157.4 727.5,256.3" fill="none" stroke="#444" stroke-width="0.5" />
<polyline points="399.6,300.4 585.0,388.0" fill="none" stroke="#444" stroke-width="0.7" />
<polyline points="400.2,302.8 583.5,388.6" fill="none" stroke="#555" stroke-width="0.6" />
</g>
<g id="callouts">

<g stroke="#d9a950" stroke-width="2" fill="none">
<line x1="233.1" y1="3" x2="233.1" y2="197"/>
<line x1="335.5" y1="73" x2="335.5" y2="298"/>
<line x1="632" y1="58.5" x2="632" y2="258"/>
<line x1="386.4" y1="341" x2="386.4" y2="455"/>
<line x1="640.4" y1="341" x2="640.4" y2="488.5"/>
</g>
<g fill="#d9a950">
<circle cx="232.6" cy="197.2" r="7.3"/>
<circle cx="335.4" cy="298.4" r="7.1"/>
<circle cx="632" cy="258.7" r="7.1"/>
<circle cx="386.4" cy="341.7" r="7.1"/>
<circle cx="639.6" cy="341.6" r="7.1"/>
</g>

</g>
<g id="labels">
<text class="h" x="-1.54" y="15.9" font-size="16.0" textLength="226.57" lengthAdjust="spacingAndGlyphs">MAIN FLOAT SUPPORTING</text>
<text class="h" x="88.00" y="34.6" font-size="16.4" textLength="137.01" lengthAdjust="spacingAndGlyphs">THE PV MODULE</text>
<text class="b" x="117.98" y="55.2" font-size="15.0" textLength="106.54" lengthAdjust="spacingAndGlyphs">HDPE material</text>
<text class="b" x="74.49" y="75.3" font-size="15.0" textLength="150.02" lengthAdjust="spacingAndGlyphs">Inclination Angle: 12°</text>
<text class="b" x="92.00" y="95.2" font-size="15.0" textLength="132.50" lengthAdjust="spacingAndGlyphs">Thickness: ～3 mm</text>
<text class="b" x="121.50" y="114.8" font-size="15.0" textLength="103.01" lengthAdjust="spacingAndGlyphs">Weight: 9,5 Kg</text>
<text class="h" x="342.49" y="87.4" font-size="15.6" textLength="207.02" lengthAdjust="spacingAndGlyphs">SECONDARY FLOAT FOR</text>
<text class="h" x="341.47" y="106.0" font-size="16.3" textLength="230.03" lengthAdjust="spacingAndGlyphs">MAINTENANCE/BUOYANCY</text>
<text class="b" x="343.97" y="126.0" font-size="15.0" textLength="106.06" lengthAdjust="spacingAndGlyphs">HDPE material</text>
<text class="b" x="342.98" y="146.0" font-size="15.0" textLength="150.52" lengthAdjust="spacingAndGlyphs">Non-slipping surface</text>
<text class="b" x="345.00" y="166.4" font-size="15.0" textLength="133.00" lengthAdjust="spacingAndGlyphs">Thickness: ～3 mm</text>
<text class="b" x="343.99" y="186.0" font-size="15.0" textLength="105.03" lengthAdjust="spacingAndGlyphs">Weight: 3.5 Kg</text>
<text class="h" x="639.48" y="72.7" font-size="15.3" textLength="165.04" lengthAdjust="spacingAndGlyphs">STANDARD FRAMED</text>
<text class="h" x="638.98" y="91.0" font-size="16.2" textLength="192.04" lengthAdjust="spacingAndGlyphs">60 CELLS PV MODULE</text>
<text class="b" x="641.00" y="111.5" font-size="15.0" textLength="158.51" lengthAdjust="spacingAndGlyphs">Lenght: max 1670 mm</text>
<text class="b" x="641.00" y="132.0" font-size="15.0" textLength="142.51" lengthAdjust="spacingAndGlyphs">Width: 991 mm ± 3</text>
<text class="b" x="639.99" y="152.0" font-size="15.0" textLength="212.01" lengthAdjust="spacingAndGlyphs">Frame thickness: 25～40 mm</text>
<text class="b" x="641.00" y="171.6" font-size="15.0" textLength="211.51" lengthAdjust="spacingAndGlyphs">Cable lenght: 900～1200 mm</text>
<text class="b" x="641.00" y="191.2" font-size="15.0" textLength="214.50" lengthAdjust="spacingAndGlyphs">Connector: MC4 compatibility</text>
<text class="h" x="390.97" y="414.3" font-size="16.5" textLength="159.08" lengthAdjust="spacingAndGlyphs">CONNECTION PIN</text>
<text class="b" x="391.99" y="435.0" font-size="15.0" textLength="177.03" lengthAdjust="spacingAndGlyphs">Fiberglass + PP material</text>
<text class="b" x="393.00" y="454.4" font-size="15.0" textLength="179.00" lengthAdjust="spacingAndGlyphs">Certification NFT 58 000</text>
<text class="h" x="644.98" y="429.4" font-size="15.7" textLength="176.03" lengthAdjust="spacingAndGlyphs">RAIL TO FIX THE PV</text>
<text class="h" x="644.46" y="447.7" font-size="15.7" textLength="214.06" lengthAdjust="spacingAndGlyphs">MODULE ON THE FLOATS</text>
<text class="b" x="647.00" y="467.4" font-size="15.0" textLength="172.50" lengthAdjust="spacingAndGlyphs">Aluminium or EPDM rail</text>
<text class="b" x="647.00" y="488.0" font-size="15.0" textLength="206.51" lengthAdjust="spacingAndGlyphs">Certificated ISO 3302-1/1996</text>
</g>
</svg>
</body></html>
